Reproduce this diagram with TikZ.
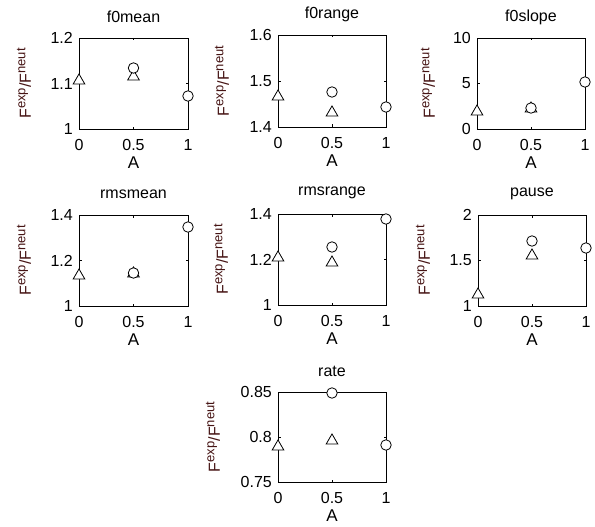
\documentclass[tikz,border=0pt]{standalone}
\usepackage{fontspec}
\setmainfont{Liberation Sans}
\usetikzlibrary{shapes.geometric}
\definecolor{labcol}{RGB}{70,20,20}
\tikzset{
 axbox/.style={draw=black,line width=0.8pt},
 tickmark/.style={draw=black,line width=0.8pt},
 ticklab/.style={font=\fontsize{16}{16}\selectfont,inner sep=0pt,text=black},
 titlelab/.style={font=\fontsize{16}{16}\selectfont,inner sep=0pt},
 xlab/.style={font=\fontsize{17}{17}\selectfont,inner sep=0pt},
 ylab/.style={font=\fontsize{16}{16}\selectfont,inner sep=0pt,rotate=90,text=labcol},
 circmark/.style={circle,draw=black,fill=white,line width=0.8pt,minimum size=10.5pt,inner sep=0pt},
 trimark/.style={regular polygon,regular polygon sides=3,draw=black,fill=white,line width=0.8pt,minimum size=13.5pt,inner sep=0pt},
}
\newcommand\sups[1]{\raisebox{0.33em}{\fontsize{13}{13}\selectfont #1}}
\newcommand\ylabtext{F\sups{exp}/F\sups{neut}}
% #1 id, #2 left, #3 top, #4 right, #5 bottom, #6 title, #7 ytop, #8 ymid, #9 ybot
\newcommand\plotpanel[9]{%
 \coordinate (#1-nw) at (#2,#3);
 \coordinate (#1-se) at (#4,#5);
 \draw[axbox] (#1-nw) rectangle (#1-se);
 \draw[tickmark] ({(#2+#4)/2},#5) -- ++(0,-2.5);
 \draw[tickmark] ({(#2+#4)/2},#3) -- ++(0,2.5);
 \draw[tickmark] (#2,{(#3+#5)/2}) -- ++(2.5,0);
 \draw[tickmark] (#4,{(#3+#5)/2}) -- ++(-2.5,0);
 \node[ticklab,anchor=east] (#1-y2) at ({#2-6},#3) {#7};
 \node[ticklab,anchor=east] (#1-y1) at ({#2-6},{(#3+#5)/2}) {#8};
 \node[ticklab,anchor=east] (#1-y0) at ({#2-6},#5) {#9};
 \node[ticklab] (#1-x0) at (#2,{#5+16}) {0};
 \node[ticklab] (#1-x1) at ({(#2+#4)/2},{#5+16}) {0.5};
 \node[ticklab] (#1-x2) at (#4,{#5+16}) {1};
 \node[xlab] (#1-xl) at ({(#2+#4)/2},{#5+34}) {A};
 \node[titlelab] (#1-t) at ({(#2+#4)/2},{#3-21}) {#6};
}
\begin{document}
\begin{tikzpicture}[x=1pt,y=-1pt]
\useasboundingbox[fill=white] (0,0) rectangle (595,527);

% f0mean
\plotpanel{p1}{79}{38}{188}{129}{f0mean}{1.2}{1.1}{1}
\node[ylab] (p1-yl) at (24,83.5) {\ylabtext};
\node[trimark] (p1-a0) at (79,80.7) {};
\node[trimark] (p1-a1) at (133.5,76.7) {};
\node[circmark] (p1-b1) at (133.5,68) {};
\node[circmark] (p1-b2) at (188,96) {};

% f0range
\plotpanel{p2}{278}{35}{386}{127}{f0range}{1.6}{1.5}{1.4}
\node[ylab] (p2-yl) at (222,81) {\ylabtext};
\node[trimark] (p2-a0) at (278,96.7) {};
\node[trimark] (p2-a1) at (332,112.7) {};
\node[circmark] (p2-b1) at (332,92) {};
\node[circmark] (p2-b2) at (386,107) {};

% f0slope
\plotpanel{p3}{477}{38}{585}{129}{f0slope}{10}{5}{0}
\node[ylab] (p3-yl) at (428,83.5) {\ylabtext};
\node[trimark] (p3-a0) at (477,111.7) {};
\node[trimark] (p3-a1) at (531,108.7) {};
\node[circmark] (p3-b1) at (531,108) {};
\node[circmark] (p3-b2) at (585,82) {};

% rmsmean
\plotpanel{p4}{79}{215}{188}{306}{rmsmean}{1.4}{1.2}{1}
\node[ylab] (p4-yl) at (24,260.5) {\ylabtext};
\node[trimark] (p4-a0) at (79,275.7) {};
\node[trimark] (p4-a1) at (133.5,273.7) {};
\node[circmark] (p4-b1) at (133.5,273) {};
\node[circmark] (p4-b2) at (188,227) {};

% rmsrange
\plotpanel{p5}{278}{214}{386}{305}{rmsrange}{1.4}{1.2}{1}
\node[ylab] (p5-yl) at (221,259.5) {\ylabtext};
\node[trimark] (p5-a0) at (278,257.7) {};
\node[trimark] (p5-a1) at (332,262.7) {};
\node[circmark] (p5-b1) at (332,247) {};
\node[circmark] (p5-b2) at (386,219) {};

% pause
\plotpanel{p6}{478}{215}{586}{306}{pause}{2}{1.5}{1}
\node[ylab] (p6-yl) at (423,260.5) {\ylabtext};
\node[trimark] (p6-a0) at (478,294.7) {};
\node[trimark] (p6-a1) at (532,255.7) {};
\node[circmark] (p6-b1) at (532,241) {};
\node[circmark] (p6-b2) at (586,248) {};

% rate
\plotpanel{p7}{278}{392}{386}{482}{rate}{0.85}{0.8}{0.75}
\node[ylab] (p7-yl) at (213,437) {\ylabtext};
\node[trimark] (p7-a0) at (278,446.7) {};
\node[trimark] (p7-a1) at (332,440.7) {};
\node[circmark] (p7-b1) at (332,393) {};
\node[circmark] (p7-b2) at (386,445) {};
\end{tikzpicture}
\end{document}
